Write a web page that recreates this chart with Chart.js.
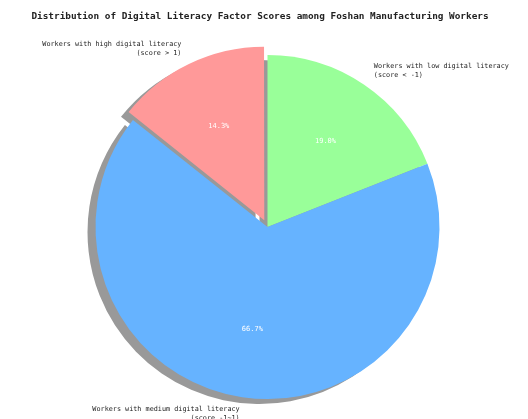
<!DOCTYPE html>
<html>
<head>
<meta charset="utf-8">
<script src="https://cdn.jsdelivr.net/npm/chart.js@4.4.1/dist/chart.umd.min.js"></script>
<style>
  html, body { margin: 0; padding: 0; background: #fff; }
  #wrap { width: 528px; height: 419px; }
</style>
</head>
<body>
<div id="wrap"><canvas id="chart" width="528" height="419"></canvas></div>
<script>
// Share of workers per digital literacy factor-score group
const titleText = "Distribution of Digital Literacy Factor Scores among Foshan Manufacturing Workers"
const categories = [
  ["Workers with low digital literacy", "(score < -1)"],
  ["Workers with medium digital literacy", "(score -1~1)"],
  ["Workers with high digital literacy", "(score > 1)"]
]
const shares = [19.0, 66.7, 14.3]
const colors = ["#99ff99", "#66b3ff", "#ff9999"]
const explode = [0, 0, 9] // wanted shift of each wedge, px

const monoFont = '"DejaVu Sans Mono", "Liberation Mono", monospace'
const total = shares.reduce((a, b) => a + b, 0)

// Chart.js v4 moves an arc by offset/4 * (2 - sin(circumference)),
// so turn the wanted shift into the option value
function chartOffset(i) {
  const circ = shares[i] / total * Math.PI * 2
  return explode[i] / (0.25 * (2 - Math.sin(Math.min(Math.PI, circ))))
}

// gray drop shadow under every wedge, like matplotlib's shadow=True
const shadowPlugin = {
  id: "pieShadow",
  beforeDatasetsDraw(chart) {
    const ctx = chart.ctx
    const arcs = chart.getDatasetMeta(0).data
    ctx.save()
    ctx.fillStyle = "#999999"
    arcs.forEach((arc, i) => {
      const mid = (arc.startAngle + arc.endAngle) / 2
      const off = explode[i]
      const cx = arc.x + Math.cos(mid) * off - 8
      const cy = arc.y + Math.sin(mid) * off + 5
      ctx.beginPath()
      ctx.moveTo(cx, cy)
      ctx.arc(cx, cy, arc.outerRadius, arc.startAngle, arc.endAngle)
      ctx.closePath()
      ctx.fill()
    })
    ctx.restore()
  }
}

// title, outside labels and percentage texts
const textPlugin = {
  id: "pieTexts",
  afterDatasetsDraw(chart) {
    const ctx = chart.ctx
    const arcs = chart.getDatasetMeta(0).data
    ctx.save()

    ctx.fillStyle = "#222"
    ctx.font = "bold 9.4px " + monoFont
    ctx.textAlign = "center"
    ctx.textBaseline = "middle"
    ctx.fillText(titleText, 260, 17)

    arcs.forEach((arc, i) => {
      const mid = (arc.startAngle + arc.endAngle) / 2
      const off = explode[i]
      const cx = arc.x + Math.cos(mid) * off
      const cy = arc.y + Math.sin(mid) * off
      const r = arc.outerRadius

      // percentage inside the wedge
      ctx.fillStyle = "#ffffff"
      ctx.font = "7px " + monoFont
      ctx.textAlign = "center"
      ctx.fillText(shares[i].toFixed(1) + "%", cx + Math.cos(mid) * r * 0.6, cy + Math.sin(mid) * r * 0.6)

      // category label outside
      const lx = cx + Math.cos(mid) * r * 1.1
      const ly = cy + Math.sin(mid) * r * 1.1
      const lines = categories[i]
      const lh = 9
      ctx.fillStyle = "#222"
      ctx.font = "6.8px " + monoFont
      ctx.textAlign = Math.cos(mid) >= 0 ? "left" : "right"
      lines.forEach((t, k) => {
        ctx.fillText(t, lx, ly + (k - (lines.length - 1) / 2) * lh)
      })
    })
    ctx.restore()
  }
}

new Chart(document.getElementById("chart"), {
  type: "pie",
  data: {
    labels: categories.map(c => c.join(" ")),
    datasets: [{
      data: shares,
      backgroundColor: colors,
      borderWidth: 0,
      offset: shares.map((v, i) => chartOffset(i)),
      hoverOffset: 0
    }]
  },
  options: {
    responsive: false,
    animation: false,
    radius: 172,
    layout: { padding: { left: 77, right: 70, top: 37, bottom: 2 } },
    plugins: {
      legend: { display: false },
      title: { display: false },
      tooltip: { enabled: false }
    }
  },
  plugins: [shadowPlugin, textPlugin]
})
</script>
</body>
</html>
